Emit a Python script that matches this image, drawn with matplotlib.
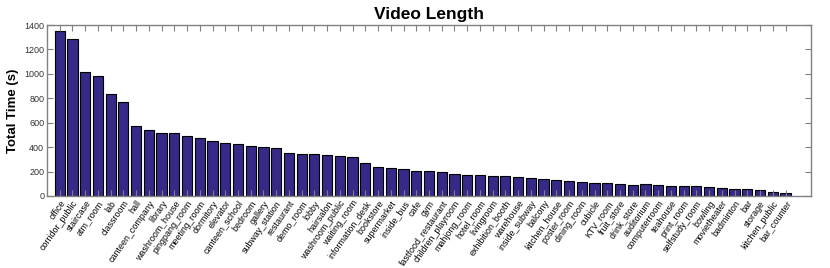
import matplotlib
matplotlib.use('Agg')
import matplotlib.pyplot as plt
import numpy as np

plt.rcParams['font.family'] = ['Liberation Sans', 'DejaVu Sans']

# scene categories and total video time (s)
scenes = ['office', 'corridor_public', 'staircase', 'atm_room', 'lab', 'classroom', 'hall',
          'canteen_company', 'library', 'washroom_house', 'pingpang_room', 'meeting_room',
          'dormitory', 'elevator', 'canteen_school', 'bedroom', 'gallery', 'subway_station',
          'restaurant', 'demo_room', 'lobby', 'hairsalon', 'washroom_public', 'waiting_room',
          'information_desk', 'bookstore', 'supermarket', 'inside_bus', 'cafe', 'gym',
          'fastfood_restaurant', 'children_playroom', 'mahjong_room', 'hotel_room', 'livingroom',
          'exhibition_booth', 'warehouse', 'inside_subway', 'balcony', 'kitchen_house',
          'poster_room', 'dining_room', 'cubicle', 'KTV_room', 'fruit_store', 'drink_store',
          'auditorium', 'computerroom', 'teahouse', 'print_room', 'selfstudy_room', 'bowling',
          'movietheater', 'badminton', 'bar', 'storage', 'kitchen_public', 'bar_counter']
total_time = [1351, 1288, 1018, 980, 838, 767, 573,
              540, 519, 519, 494, 475,
              450, 437, 423, 409, 404, 390,
              352, 346, 341, 333, 330, 317,
              273, 235, 232, 224, 207, 205,
              197, 177, 170, 172, 164,
              164, 156, 145, 136, 134,
              126, 112, 104, 104, 96, 94,
              96, 90, 85, 79, 79, 76,
              63, 60, 55, 49, 30, 25]
yticks = [0, 200, 400, 600, 800, 1000, 1200, 1400]

fig = plt.figure(figsize=(8.3, 2.68), dpi=100)
ax = fig.add_axes([0.0566, 0.2687, 0.9205, 0.638])

x = np.arange(1, len(scenes) + 1)
ax.bar(x, total_time, width=0.8, color='#352a87', edgecolor='black', linewidth=0.8)

ax.set_xlim(0, 60)
ax.set_ylim(0, 1400)
ax.set_yticks(yticks)
ax.set_xticks(x)
ax.set_xticklabels(scenes, rotation=55, ha='right', rotation_mode='anchor', fontsize=6.4)
ax.tick_params(axis='y', labelsize=6.5, labelcolor='#333333')
ax.tick_params(direction='in', top=True, right=True, length=4, width=0.8,
               color='#808080', pad=2)

for s in ax.spines.values():
    s.set_color('#808080')
    s.set_linewidth(1)

ax.set_ylabel('Total Time (s)', fontsize=9.5, fontweight='bold')
ax.set_title('Video Length', fontsize=12.5, fontweight='bold', pad=4)

fig.savefig('out.png', dpi=100)
